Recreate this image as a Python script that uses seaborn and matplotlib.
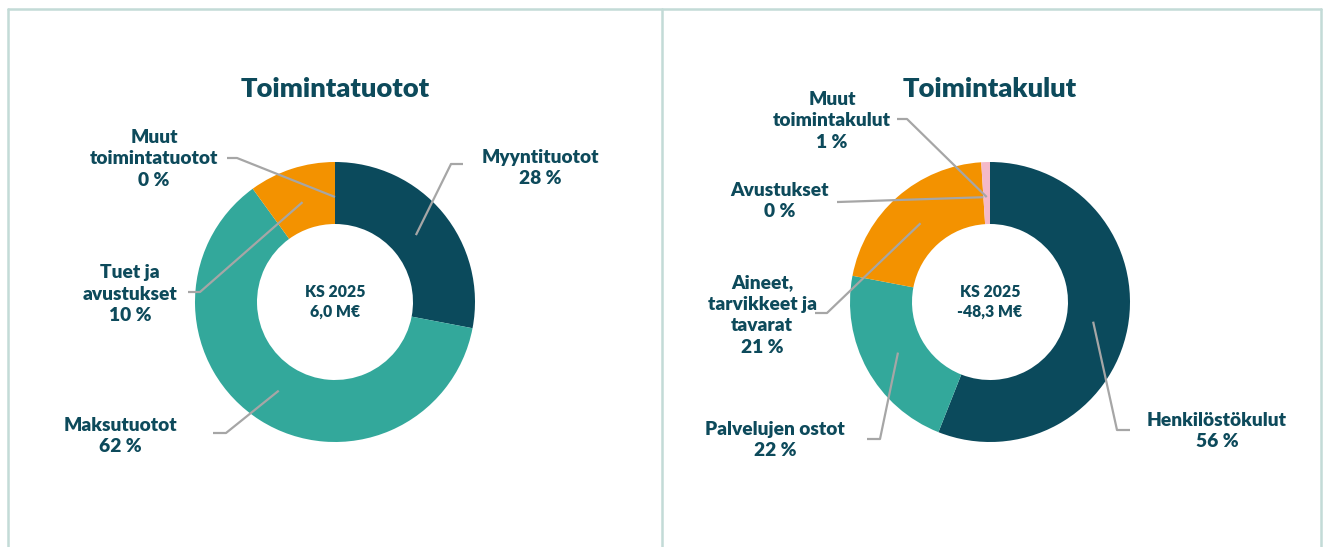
import numpy as np
import matplotlib
matplotlib.use("Agg")
import matplotlib.pyplot as plt
import seaborn as sns

# ---------------- data ----------------
tuotot_title = "Toimintatuotot"
tuotot_labels = ["Myyntituotot", "Maksutuotot", "Tuet ja\navustukset", "Muut\ntoimintatuotot"]
tuotot_values = [28, 62, 10, 0]
tuotot_center = "KS 2025\n6,0 M€"

kulut_title = "Toimintakulut"
kulut_labels = ["Henkilöstökulut", "Palvelujen ostot", "Aineet,\ntarvikkeet ja\ntavarat",
                "Avustukset", "Muut\ntoimintakulut"]
kulut_values = [56, 22, 21, 0, 1]
kulut_center = "KS 2025\n-48,3 M€"

# ---------------- style ----------------
sns.set_theme(style="white")
plt.rcParams["font.family"] = ["Lato", "DejaVu Sans"]

DARK = "#0B4A5C"
TEAL = "#33A89B"
ORANGE = "#F39200"
PINK = "#F4B9C9"
TXT = "#0D4A5B"
LEAD = "#A6A6A6"
BORDER = "#C3DBD7"
WEIGHT = "heavy"

tuotot_colors = [DARK, TEAL, ORANGE, "#7F7F7F"]
kulut_colors = [DARK, TEAL, ORANGE, "#7F7F7F", PINK]

W, H = 1325, 547
fig = plt.figure(figsize=(W / 100, H / 100), dpi=100)
ax = fig.add_axes([0, 0, 1, 1])

R_OUT, RING = 140, 62
R_ANCH = 105

# label layout: (text x, text y, elbow x, elbow y, end x, end y)
tuotot_layout = [
    (540, 168, 451, 164, 463, 164),
    (120, 436, 226, 433, 213, 433),
    (130, 294, 200, 292, 188, 292),
    (154, 159, 237, 158, 227, 158),
]
kulut_layout = [
    (1217, 431, 1117, 430, 1130, 430),
    (775, 440, 880, 439, 867, 439),
    (762, 315, 827, 313, 815, 313),
    (780, 201, 838, 202, 837, 202),
    (832, 121, 907, 119, 897, 119),
]


def donut(values, labels, colors, center, title, ctext, layout):
    cx, cy = center
    ax.pie(values, colors=colors, startangle=-90, counterclock=True,
           center=(cx, cy), radius=R_OUT, frame=True,
           wedgeprops=dict(width=RING, edgecolor="none", linewidth=0))
    total = float(sum(values))
    cum = np.cumsum([0] + list(values))
    for i, (lab, v) in enumerate(zip(labels, values)):
        mid = (cum[i] + cum[i + 1]) / 2 / total
        th = np.deg2rad(-90 + 360 * mid)
        axp, ayp = cx + R_ANCH * np.cos(th), cy + R_ANCH * np.sin(th)
        tx, ty, ex, ey, fx, fy = layout[i]
        ax.plot([axp, ex, fx], [ayp, ey, fy], color=LEAD, lw=1.6,
                solid_capstyle="butt", zorder=5)
        ax.text(tx, ty, f"{lab}\n{v} %", ha="center", va="center",
                fontsize=13.8, fontweight=WEIGHT, color=TXT, linespacing=1.32,
                zorder=6)
    ax.text(cx, cy, ctext, ha="center", va="center", fontsize=11.3,
            fontweight=WEIGHT, color=TXT, linespacing=1.3, zorder=6)
    ax.text(cx, 89, title, ha="center", va="center", fontsize=19.6,
            fontweight=WEIGHT, color=TXT)


donut(tuotot_values, tuotot_labels, tuotot_colors, (335, 302),
      tuotot_title, tuotot_center, tuotot_layout)
donut(kulut_values, kulut_labels, kulut_colors, (990, 302),
      kulut_title, kulut_center, kulut_layout)

# panel borders
ax.plot([8, 1321], [9, 9], color=BORDER, lw=1.8)
for x in (8, 662, 1321):
    ax.plot([x, x], [9, 547], color=BORDER, lw=1.8)

ax.set_xlim(0, W)
ax.set_ylim(H, 0)
ax.set_aspect("auto")
ax.axis("off")

fig.savefig("out.png", dpi=100, facecolor="white")
